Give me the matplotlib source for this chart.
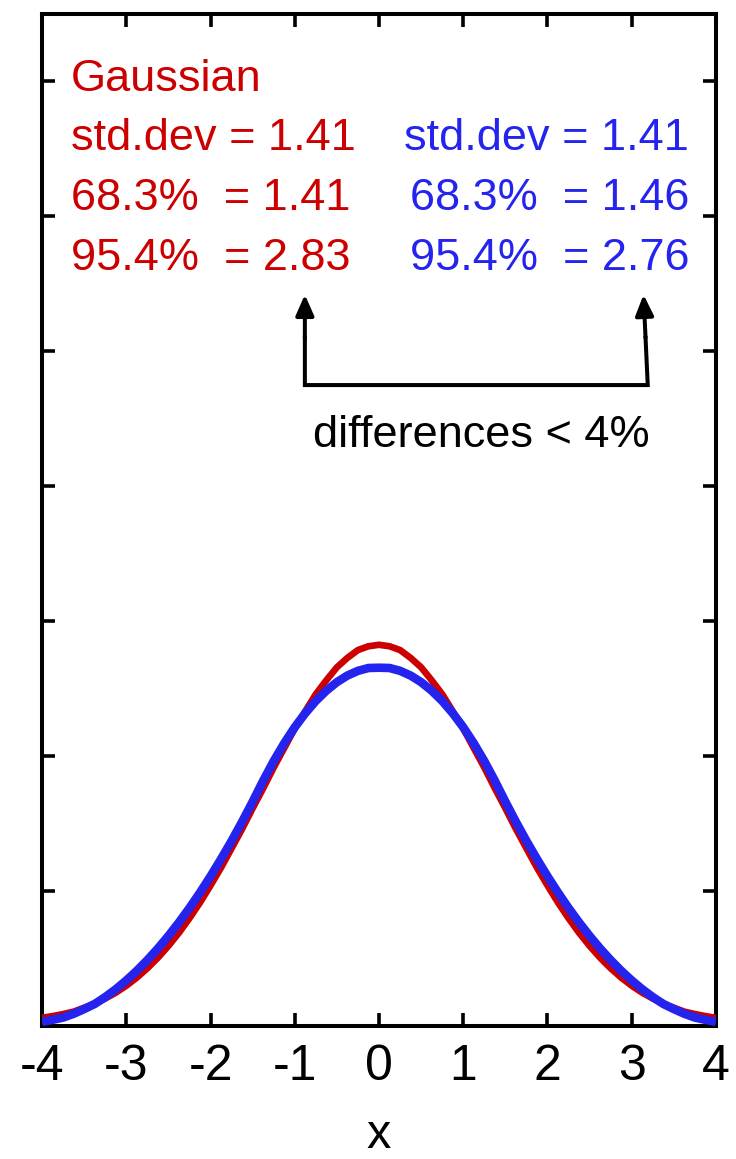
import matplotlib
matplotlib.use("Agg")
import matplotlib.pyplot as plt
from matplotlib import font_manager

# fonts
names = {f.name for f in font_manager.fontManager.ttflist}
txt_font = "Liberation Sans" if "Liberation Sans" in names else "DejaVu Sans"

# curves, read every 0.125 in x
x = [-4.0, -3.875, -3.75, -3.625, -3.5, -3.375, -3.25, -3.125, -3.0,
     -2.875, -2.75, -2.625, -2.5, -2.375, -2.25, -2.125, -2.0,
     -1.875, -1.75, -1.625, -1.5, -1.375, -1.25, -1.125, -1.0,
     -0.875, -0.75, -0.625, -0.5, -0.375, -0.25, -0.125, 0.0,
     0.125, 0.25, 0.375, 0.5, 0.625, 0.75, 0.875, 1.0,
     1.125, 1.25, 1.375, 1.5, 1.625, 1.75, 1.875, 2.0,
     2.125, 2.25, 2.375, 2.5, 2.625, 2.75, 2.875, 3.0,
     3.125, 3.25, 3.375, 3.5, 3.625, 3.75, 3.875, 4.0]
gauss = [0.0060, 0.0073, 0.0088, 0.0106, 0.0135, 0.0164, 0.0203, 0.0246, 0.0298,
         0.0358, 0.0427, 0.0505, 0.0593, 0.0690, 0.0798, 0.0914, 0.1041,
         0.1173, 0.1316, 0.1460, 0.1613, 0.1761, 0.1915, 0.2059, 0.2204,
         0.2333, 0.2459, 0.2562, 0.2658, 0.2728, 0.2786, 0.2814, 0.2825,
         0.2814, 0.2786, 0.2728, 0.2658, 0.2562, 0.2459, 0.2333, 0.2204,
         0.2059, 0.1915, 0.1761, 0.1613, 0.1460, 0.1316, 0.1173, 0.1041,
         0.0914, 0.0798, 0.0690, 0.0593, 0.0505, 0.0427, 0.0358, 0.0298,
         0.0246, 0.0203, 0.0164, 0.0135, 0.0106, 0.0088, 0.0073, 0.0060]
other = [0.0030, 0.0045, 0.0062, 0.0090, 0.0125, 0.0163, 0.0214, 0.0272, 0.0337,
         0.0409, 0.0488, 0.0574, 0.0667, 0.0767, 0.0874, 0.0988, 0.1109,
         0.1237, 0.1371, 0.1513, 0.1662, 0.1817, 0.1963, 0.2095, 0.2214,
         0.2318, 0.2409, 0.2485, 0.2548, 0.2597, 0.2632, 0.2653, 0.2655,
         0.2653, 0.2632, 0.2597, 0.2548, 0.2485, 0.2409, 0.2318, 0.2214,
         0.2095, 0.1963, 0.1817, 0.1662, 0.1513, 0.1371, 0.1237, 0.1109,
         0.0988, 0.0874, 0.0767, 0.0667, 0.0574, 0.0488, 0.0409, 0.0337,
         0.0272, 0.0214, 0.0163, 0.0125, 0.0090, 0.0062, 0.0045, 0.0030]

xticks = [-4, -3, -2, -1, 0, 1, 2, 3, 4]
yticks = [0.0, 0.1, 0.2, 0.3, 0.4, 0.5, 0.6, 0.7]

red_rows = ["Gaussian", "std.dev = 1.41", "68.3%  = 1.41", "95.4%  = 2.83"]
blue_rows = ["std.dev = 1.41", "68.3%  = 1.46", "95.4%  = 2.76"]
row_y = [0.6931, 0.6494, 0.6049, 0.5604]

RED = "#cc0000"
BLUE = "#2424ee"

fig = plt.figure(figsize=(7.36, 11.59), dpi=100)
ax = fig.add_axes([0.0571, 0.1148, 0.9157, 0.8731])

ax.plot(x, gauss, color=RED, lw=4.8, solid_joinstyle="round",
        solid_capstyle="butt", zorder=3)
ax.plot(x, other, color=BLUE, lw=6.2, solid_joinstyle="round",
        solid_capstyle="butt", zorder=4)

ax.set_xlim(-4, 4)
ax.set_ylim(0, 0.75)
ax.set_xticks(xticks)
ax.set_yticks(yticks)
ax.set_xticklabels([str(t) for t in xticks], fontfamily=txt_font, fontsize=36)
ax.set_yticklabels([])
ax.tick_params(direction="in", length=9.5, width=2.6, top=True, right=True,
               pad=13)
for s in ax.spines.values():
    s.set_linewidth(2.9)
ax.set_xlabel("x", fontfamily=txt_font, fontsize=35, va="baseline")
ax.xaxis.set_label_coords(0.5, -0.1205)

# stats text
for t, yy in zip(red_rows, row_y):
    ax.text(-3.656, yy, t, color=RED, fontsize=32.5, fontfamily=txt_font,
            ha="left", va="baseline")
for t, yy in zip(blue_rows, row_y[1:]):
    ax.text(3.68, yy, t, color=BLUE, fontsize=32.5, fontfamily=txt_font,
            ha="right", va="baseline")

# bracket with arrows
xl, xr = -0.88, 3.19
ybar, ytip, ybase = 0.475, 0.542, 0.51
lean = 0.05  # right arm leans slightly left going up
xr_base = xr - lean * (ybase - ybar) / (ytip - ybar)
ax.plot([xl, xl, xr, xr_base], [ybase, ybar, ybar, ybase],
        color="black", lw=2.9, solid_joinstyle="miter", zorder=5)
for xa, xb in [(xl, xl), (xr_base, xr - lean)]:
    ax.annotate("", xy=(xb, ytip), xytext=(xa, ybase),
                arrowprops=dict(arrowstyle="-|>,head_length=1.25,head_width=0.55",
                                color="black", lw=2.9, shrinkA=0, shrinkB=0),
                zorder=5)
ax.text(1.22, 0.4292, "differences < 4%", color="black", fontsize=32.5,
        fontfamily=txt_font, ha="center", va="baseline")

fig.savefig("out.png", dpi=100)
